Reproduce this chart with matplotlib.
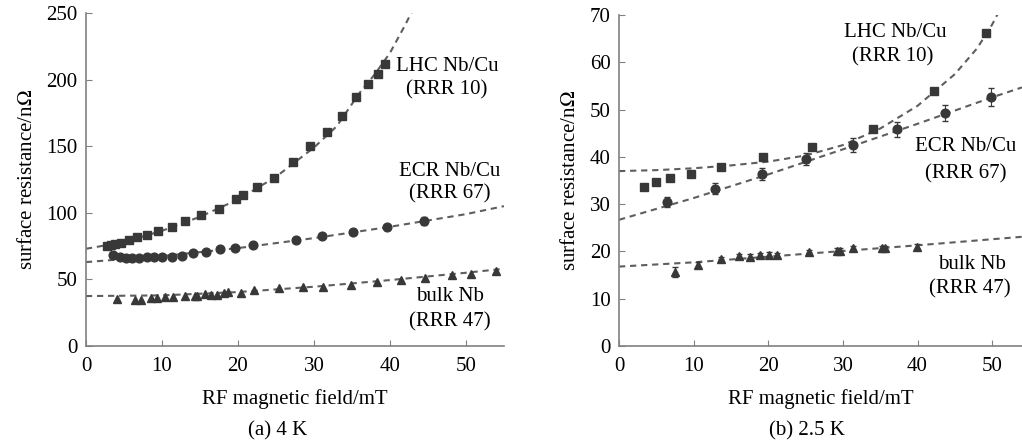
"""
Surface resistance vs RF magnetic field, 4 K and 2.5 K
"""
import matplotlib.pyplot as plt
import numpy as np

plt.rcParams["font.family"] = ["Liberation Serif", "DejaVu Serif"]
plt.rcParams["font.size"] = 15
plt.rcParams["mathtext.fontset"] = "stix"

# ---- (a) 4 K ----
lhc4_x = [2.8, 3.3, 3.8, 4.6, 5.6, 6.7, 8.0, 9.5, 11.3, 13.0, 15.2, 17.5, 19.8, 20.6,
          22.5, 24.7, 27.2, 29.5, 31.7, 33.7, 35.5, 37.1, 38.4, 39.3]
lhc4_y = [75, 76, 76.7, 77.4, 79.4, 81.5, 83.5, 86, 89, 93.5, 98, 103, 110, 113,
          119.5, 126.5, 138.5, 150, 161, 173, 187, 197, 204, 212]

ecr4_x = [3.6, 4.5, 5.3, 6.1, 7.0, 8.0, 8.9, 10.0, 11.3, 12.6, 14.1, 15.8, 17.7, 19.6,
          22.0, 27.7, 31.1, 35.2, 39.6, 44.5]
ecr4_y = [68.2, 66.5, 66.2, 66.2, 66.2, 66.5, 67, 67, 67.2, 67.7, 69.5, 70.5, 72.5, 73.7,
          75.5, 79.7, 82.4, 85.5, 89.1, 94.0]
ecr4_err = [1.5, 1, 1, 1, 1, 1, 1, 1, 1, 1, 1, 1, 1, 1,
            1, 1.5, 1.5, 1.5, 2, 3]

bulk4_x = [4.1, 6.4, 7.2, 8.6, 9.4, 10.4, 11.4, 13.0, 14.3, 14.6, 15.7, 16.4, 17.2, 18.2,
           18.7, 20.4, 22.1, 25.4, 28.6, 31.2, 34.9, 38.3, 41.5, 44.6, 48.2, 50.7, 53.9]
bulk4_y = [35.3, 34.5, 34.5, 35.8, 36.3, 36.5, 37, 37.5, 37.8, 37.8, 39, 38.5, 38.5, 39.5,
           40.8, 40, 42, 43.3, 44.1, 44.1, 46, 48.3, 49.5, 50.8, 53, 54.3, 56.3]

# dashed fit curves
fit_lhc4_x = [0, 5, 10, 15, 20, 25, 30, 33, 36, 38, 40, 42, 43.5]
fit_lhc4_y = [73, 78, 86.5, 97, 110, 127, 149, 165, 190, 204, 220, 241, 258]
fit_ecr4_x = [0, 10, 20, 30, 40, 50, 55]
fit_ecr4_y = [63, 67.5, 73.5, 81, 89.5, 99, 105]
fit_bulk4_x = [0, 10, 20, 30, 40, 50, 55]
fit_bulk4_y = [37.5, 38, 40.5, 44.5, 49.5, 55, 58]

# ---- (b) 2.5 K ----
lhc25_x = [3.4, 4.9, 6.8, 9.65, 13.7, 19.3, 25.9, 34.1, 42.2, 49.2]
lhc25_y = [33.7, 34.6, 35.5, 36.4, 37.9, 39.9, 42.0, 46.0, 53.9, 66.3]

ecr25_x = [6.4, 12.8, 19.1, 25.0, 31.4, 37.3, 43.7, 49.9]
ecr25_y = [30.5, 33.3, 36.4, 39.5, 42.5, 45.8, 49.3, 52.7]
ecr25_err = [1.1, 1.2, 1.2, 1.3, 1.4, 1.6, 1.7, 1.9]

bulk25_x = [7.5, 10.55, 13.7, 16.1, 17.5, 18.9, 20.1, 21.2, 25.5, 29.2, 29.6, 31.4,
            35.2, 35.7, 39.9]
bulk25_y = [15.7, 17.1, 18.3, 19.0, 18.9, 19.2, 19.3, 19.2, 19.9, 20.2, 20.2, 20.7,
            20.7, 20.7, 21.0]
bulk25_err = [1.0, 0.6, 0.6, 0.5, 0.5, 0.5, 0.5, 0.5, 0.5, 0.5, 0.5, 0.5,
              0.5, 0.5, 0.5]

fit_lhc25_x = [0, 5, 10, 15, 20, 25, 30, 35, 40, 45, 48, 50, 51]
fit_lhc25_y = [37, 37.2, 37.6, 38.2, 39.0, 40.3, 42.5, 46, 50.8, 57.5, 63, 68, 71]
fit_ecr25_x = [0, 10, 20, 30, 40, 50, 54]
fit_ecr25_y = [26.7, 31.3, 36.3, 41.6, 47, 52.6, 54.7]
fit_bulk25_x = [0, 10, 20, 30, 40, 54]
fit_bulk25_y = [16.8, 17.7, 18.9, 20.1, 21.3, 23.1]

MARK = "#383838"
LINE = "#5e5e5e"
SPINE = "#808080"


def style_axes(ax, xmax, ymax, ystep):
    for s in ["top", "right"]:
        ax.spines[s].set_visible(False)
    for s in ["left", "bottom"]:
        ax.spines[s].set_color(SPINE)
        ax.spines[s].set_linewidth(1.2)
    ax.set_xlim(0, xmax)
    ax.set_ylim(0, ymax)
    ax.set_xticks(np.arange(0, 51, 10))
    ax.set_yticks(np.arange(0, ymax + 1, ystep))
    ax.tick_params(direction="in", length=4, color=SPINE, labelsize=15)
    ax.tick_params(axis="x", pad=8)
    ax.tick_params(axis="y", pad=6)
    ax.set_xlabel("RF magnetic field/mT", labelpad=9)
    ax.set_ylabel("surface resistance/n$\\Omega$", labelpad=7)


def fit_line(ax, x, y):
    ax.plot(x, y, linestyle=(0, (3, 2.3)), color=LINE, linewidth=1.5, zorder=1)


fig = plt.figure(figsize=(10.22, 4.46), dpi=100)
ax1 = fig.add_axes([0.0841, 0.2242, 0.409, 0.7466])
ax2 = fig.add_axes([0.6057, 0.2242, 0.3943, 0.742])

# (a)
fit_line(ax1, fit_lhc4_x, fit_lhc4_y)
fit_line(ax1, fit_ecr4_x, fit_ecr4_y)
fit_line(ax1, fit_bulk4_x, fit_bulk4_y)
ax1.plot(lhc4_x, lhc4_y, "s", color=MARK, markersize=6.3, zorder=3)
ax1.errorbar(ecr4_x, ecr4_y, yerr=ecr4_err, fmt="o", color=MARK, markersize=6.3,
             elinewidth=0.8, capsize=2, zorder=3)
ax1.plot(bulk4_x, bulk4_y, "^", color=MARK, markersize=6.3, zorder=3)
style_axes(ax1, 55, 250, 50)

ax1.text(47.5, 209.5, "LHC Nb/Cu", ha="center", va="center")
ax1.text(47.5, 192, "(RRR 10)", ha="center", va="center")
ax1.text(47.9, 131, "ECR Nb/Cu", ha="center", va="center")
ax1.text(47.9, 114, "(RRR 67)", ha="center", va="center")
ax1.text(47.9, 36.8, "bulk Nb", ha="center", va="center")
ax1.text(47.9, 18.5, "(RRR 47)", ha="center", va="center")

# (b)
fit_line(ax2, fit_lhc25_x, fit_lhc25_y)
fit_line(ax2, fit_ecr25_x, fit_ecr25_y)
fit_line(ax2, fit_bulk25_x, fit_bulk25_y)
ax2.plot(lhc25_x, lhc25_y, "s", color=MARK, markersize=6.3, zorder=3)
ax2.errorbar(ecr25_x, ecr25_y, yerr=ecr25_err, fmt="o", color=MARK, markersize=6.3,
             elinewidth=0.8, capsize=2, zorder=3)
ax2.errorbar(bulk25_x, bulk25_y, yerr=bulk25_err, fmt="^", color=MARK, markersize=6.3,
             elinewidth=0.8, capsize=2, zorder=3)
style_axes(ax2, 54, 70, 10)

ax2.text(37.0, 66.4, "LHC Nb/Cu", ha="center", va="center")
ax2.text(36.7, 61.1, "(RRR 10)", ha="center", va="center")
ax2.text(46.4, 42.1, "ECR Nb/Cu", ha="center", va="center")
ax2.text(46.4, 36.4, "(RRR 67)", ha="center", va="center")
ax2.text(47.3, 17.3, "bulk Nb", ha="center", va="center")
ax2.text(47.0, 12.1, "(RRR 47)", ha="center", va="center")

fig.text(278 / 1022, 1 - 431 / 446, "(a) 4 K", ha="center", va="center", fontsize=15)
fig.text(807 / 1022, 1 - 431 / 446, "(b) 2.5 K", ha="center", va="center", fontsize=15)

fig.savefig("out.png", dpi=100)
